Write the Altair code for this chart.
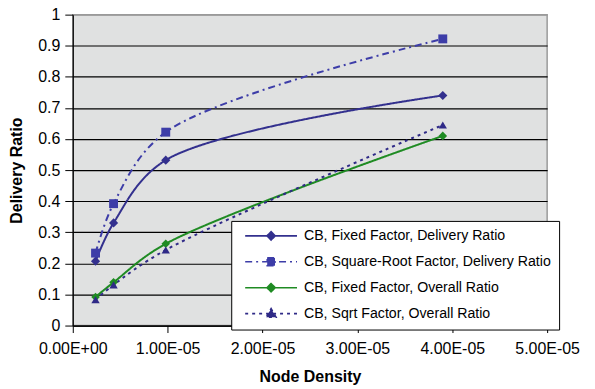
import altair as alt
import pandas as pd

# ---- data ----
node_density = [2.4e-6, 4.3e-6, 9.8e-6, 3.9e-5]
fixed_delivery = [0.207, 0.330, 0.532, 0.740]
sqrt_delivery = [0.233, 0.392, 0.622, 0.922]
fixed_overall = [0.092, 0.139, 0.263, 0.610]
sqrt_overall = [0.083, 0.131, 0.243, 0.645]

series_names = [
    "CB, Fixed Factor, Delivery Ratio",
    "CB, Square-Root Factor, Delivery Ratio",
    "CB, Fixed Factor, Overall Ratio",
    "CB, Sqrt Factor, Overall Ratio",
]
series_values = [fixed_delivery, sqrt_delivery, fixed_overall, sqrt_overall]

x_ticks = [0, 1e-5, 2e-5, 3e-5, 4e-5, 5e-5]
y_ticks = [0, 0.1, 0.2, 0.3, 0.4, 0.5, 0.6, 0.7, 0.8, 0.9, 1]

# ---- styles ----
COLORS = ["#33308E", "#3D3DA8", "#1F8B23", "#2F2A87"]
DASHES = [[1, 0], [7, 4, 2, 4], [1, 0], [3, 4]]
SHAPES = ["diamond", "square", "diamond", "triangle-up"]
SIZES = [85, 70, 85, 105]
LEGEND_PATHS = [
    "M-1,0H1M0,-0.16L0.16,0L0,0.16L-0.16,0Z",
    "M-1,0H1M-0.15,-0.15H0.15V0.15H-0.15Z",
    "M-1,0H1M0,-0.16L0.16,0L0,0.16L-0.16,0Z",
    "M-1,0H1M0,-0.19L0.19,0.14H-0.19Z",
]
FONT = "Liberation Sans"

rows = []
for name, vals in zip(series_names, series_values):
    for i, (xv, yv) in enumerate(zip(node_density, vals)):
        rows.append({"series": name, "lg": name, "x": xv, "y": yv, "order": i})
df = pd.DataFrame(rows)

x_enc = alt.X(
    "x:Q",
    scale=alt.Scale(domain=[0, 5e-5], nice=False, zero=True),
    axis=alt.Axis(
        values=x_ticks,
        labelExpr="replace(replace(upper(format(datum.value, '.2e')), 'E-', 'E-0'), 'E+', 'E+0')",
        grid=False,
        tickSize=7,
        tickColor="black",
        domainColor="black",
        domainWidth=1.2,
        labelPadding=8,
        labelFlush=False,
        labelOverlap=False,
        labelFont=FONT,
        labelFontSize=16,
        labelColor="black",
        titleFont=FONT,
        titleFontSize=16,
        titleFontWeight="bold",
        titleColor="black",
        titlePadding=12,
    ),
    title="Node Density",
)
y_enc = alt.Y(
    "y:Q",
    scale=alt.Scale(domain=[0, 1], nice=False),
    axis=alt.Axis(
        values=y_ticks,
        labelExpr="format(datum.value, '~g')",
        grid=True,
        gridColor={"condition": {"test": "datum.value >= 0.99", "value": "#9a9a9a"}, "value": "black"},
        gridWidth=1.2,
        tickSize=8,
        tickColor="black",
        domainColor="black",
        domainWidth=1.2,
        labelPadding=5,
        labelFont=FONT,
        labelFontSize=16,
        labelColor="black",
        titleFont=FONT,
        titleFontSize=16,
        titleFontWeight="bold",
        titleColor="black",
        titlePadding=13,
    ),
    title="Delivery Ratio",
)

base = alt.Chart(df)

lines = base.mark_line(interpolate="catmull-rom", strokeWidth=2).encode(
    x=x_enc,
    y=y_enc,
    color=alt.Color("series:N", scale=alt.Scale(domain=series_names, range=COLORS), legend=None),
    strokeDash=alt.StrokeDash("series:N", scale=alt.Scale(domain=series_names, range=DASHES), legend=None),
    order="order:Q",
)

points = base.mark_point(filled=True, opacity=1).encode(
    x=x_enc,
    y=y_enc,
    color=alt.Color("series:N", scale=alt.Scale(domain=series_names, range=COLORS), legend=None),
    shape=alt.Shape("series:N", scale=alt.Scale(domain=series_names, range=SHAPES), legend=None),
    size=alt.Size("series:N", scale=alt.Scale(domain=series_names, range=SIZES), legend=None),
)

legend_def = alt.Legend(
    title=None,
    orient="none",
    legendX=159,
    legendY=207,
    fillColor="white",
    strokeColor="black",
    padding=8,
    symbolSize=2704,
    symbolStrokeWidth=1.6,
    symbolOffset=5,
    labelOffset=6,
    clipHeight=14,
    rowPadding=11,
    labelFont=FONT,
    labelFontSize=14.2,
    labelColor="black",
    labelLimit=400,
)

legend_layer = base.transform_filter("datum.x < 0").mark_point(opacity=1, filled=False, strokeWidth=1.6).encode(
    x=x_enc,
    y=y_enc,
    fill=alt.Fill("lg:N", scale=alt.Scale(domain=series_names, range=COLORS), legend=legend_def),
    stroke=alt.Stroke("lg:N", scale=alt.Scale(domain=series_names, range=COLORS), legend=legend_def),
    shape=alt.Shape("lg:N", scale=alt.Scale(domain=series_names, range=LEGEND_PATHS), legend=legend_def),
    strokeDash=alt.StrokeDash("lg:N", scale=alt.Scale(domain=series_names, range=DASHES), legend=legend_def),
)

chart = (
    alt.layer(lines, points, legend_layer)
    .resolve_scale(shape="independent", strokeDash="independent", fill="independent", stroke="independent")
    .properties(
        width=476,
        height=312,
        autosize=alt.AutoSizeParams(type="none"),
        padding={"left": 65, "top": 6, "right": 40, "bottom": 60},
        background="white",
    )
    .configure_view(fill="#E0E1E1", stroke="#9a9a9a", strokeWidth=1.5)
)

chart.save("out.html", embed_options={"renderer": "svg", "actions": False})
